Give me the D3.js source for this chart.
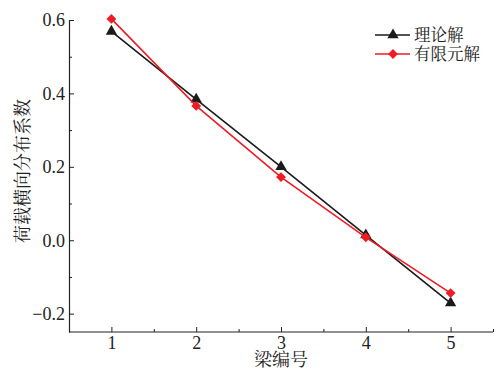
<!DOCTYPE html>
<html><head><meta charset="utf-8">
<script src="https://cdn.jsdelivr.net/npm/d3@7"></script>
<style>body{margin:0;background:#fff}</style>
</head><body>
<script>
const beams = [1, 2, 3, 4, 5];
const theory = [0.569, 0.384, 0.2, 0.014, -0.171];
const fem = [0.603, 0.366, 0.172, 0.008, -0.144];
const yTicks = [-0.2, 0.0, 0.2, 0.4, 0.6];
const seriesNames = ["理论解", "有限元解"];

const W = 500, H = 382;
const svg = d3.select("body").append("svg").attr("width", W).attr("height", H);
const x = d3.scaleLinear().domain([0.5, 5.5]).range([69, 493]);
const y = d3.scaleLinear().domain([-0.25, 0.6]).range([332, 20]);
const serif = "'Liberation Serif','Times New Roman',serif";
const cjk = "'Noto Serif CJK SC','Noto Sans CJK SC',sans-serif";

// axes
const xAxis = svg.append("g").attr("transform", "translate(0,332)")
  .call(d3.axisBottom(x).tickValues(beams).tickSizeInner(-5).tickSizeOuter(0).tickPadding(4).tickFormat(d3.format("d")));
svg.append("g").attr("transform", "translate(0,332)")
  .call(d3.axisBottom(x).tickValues([1.5, 2.5, 3.5, 4.5, 5.5]).tickSizeInner(-3).tickSizeOuter(0).tickFormat(""))
  .select(".domain").remove();
svg.append("g").attr("transform", "translate(69,0)")
  .call(d3.axisLeft(y).tickValues(yTicks).tickSizeInner(-5).tickSizeOuter(0).tickPadding(4)
    .tickFormat(d => (d < 0 ? "\u2212" : "") + Math.abs(d).toFixed(1)));
svg.append("g").attr("transform", "translate(69,0)")
  .call(d3.axisLeft(y).tickValues([-0.1, 0.1, 0.3, 0.5]).tickSizeInner(-3).tickSizeOuter(0).tickFormat(""))
  .select(".domain").remove();
svg.selectAll(".domain").attr("stroke", "#222").attr("stroke-width", 1.2);
svg.selectAll(".tick line").attr("stroke", "#222").attr("stroke-width", 1);
svg.selectAll(".tick text").attr("font-family", serif).attr("font-size", 18).attr("fill", "#222");
xAxis.select(".domain").attr("d", `M${x(0.5)},0H${x(5.5)}`);

// labels
svg.append("text").attr("x", 281).attr("y", 366).attr("text-anchor", "middle")
  .attr("font-family", cjk).attr("font-size", 18).attr("fill", "#222").text("梁编号");
svg.append("text").attr("transform", "translate(29,171) rotate(-90)").attr("text-anchor", "middle")
  .attr("font-family", cjk).attr("font-size", 18).attr("fill", "#222").text("荷载横向分布系数");

const line = d3.line().x((d, i) => x(beams[i])).y(d => y(d));
const tri = d3.symbol().type(d3.symbolTriangle).size(55);
const dia = d3.symbol().type(d3.symbolDiamond2).size(62);

svg.append("path").datum(theory).attr("d", line).attr("fill", "none").attr("stroke", "#1a1a1a").attr("stroke-width", 1.6);
svg.selectAll(".tri").data(theory).enter().append("path")
  .attr("transform", (d, i) => `translate(${x(beams[i])},${y(d)})`).attr("d", tri).attr("fill", "#1a1a1a");
svg.append("path").datum(fem).attr("d", line).attr("fill", "none").attr("stroke", "#ee1c25").attr("stroke-width", 1.6);
svg.selectAll(".dia").data(fem).enter().append("path")
  .attr("transform", (d, i) => `translate(${x(beams[i])},${y(d)})`).attr("d", dia).attr("fill", "#ee1c25");

// legend
const leg = [{c: "#1a1a1a", s: tri}, {c: "#ee1c25", s: dia}];
leg.forEach((l, i) => {
  const yy = 35 + i * 19;
  svg.append("line").attr("x1", 375).attr("x2", 410).attr("y1", yy).attr("y2", yy).attr("stroke", l.c).attr("stroke-width", 1.6);
  svg.append("path").attr("transform", `translate(393,${yy})`).attr("d", l.s).attr("fill", l.c);
  svg.append("text").attr("x", 414).attr("y", yy + 6).attr("font-family", cjk).attr("font-size", 16.5).attr("fill", "#222").text(seriesNames[i]);
});
</script>
</body></html>
